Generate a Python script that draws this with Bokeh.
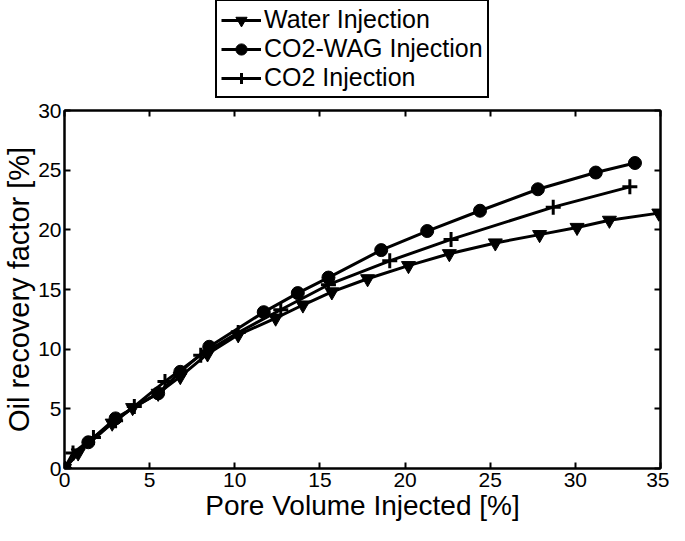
from bokeh.plotting import figure
from bokeh.layouts import column
from bokeh.models import Legend, LegendItem, LinearAxis, Range1d, FixedTicker
from bokeh.embed import file_html
from bokeh.resources import INLINE

# Data
water_x = [0, 0.8, 2.8, 4.0, 5.5, 6.8, 8.4, 10.2, 12.4, 14.0, 15.7, 17.8, 20.2, 22.6, 25.3, 27.9, 30.1, 32.0, 34.9]
water_y = [0, 1.3, 3.8, 5.1, 6.3, 7.7, 9.6, 11.2, 12.6, 13.7, 14.8, 15.9, 17.0, 18.0, 18.9, 19.6, 20.2, 20.8, 21.4]

wag_x = [0, 1.4, 3.0, 5.5, 6.8, 8.5, 11.7, 13.7, 15.5, 18.6, 21.3, 24.4, 27.8, 31.2, 33.5]
wag_y = [0, 2.2, 4.2, 6.3, 8.1, 10.2, 13.1, 14.7, 16.0, 18.3, 19.9, 21.6, 23.4, 24.8, 25.6]

co2_x = [0, 0.5, 1.7, 3.0, 4.1, 5.9, 8.0, 10.2, 12.7, 15.5, 19.1, 22.7, 28.7, 33.2]
co2_y = [0, 1.3, 2.6, 4.0, 5.2, 7.3, 9.5, 11.4, 13.3, 15.4, 17.4, 19.2, 21.9, 23.6]

x_ticks = [0, 5, 10, 15, 20, 25, 30, 35]
y_ticks = [0, 5, 10, 15, 20, 25, 30]
series_labels = ["Water Injection", "CO2-WAG Injection", "CO2 Injection"]

FONT = "Liberation Sans"
LW = 3


def draw_series(fig):
    r = []
    r.append((fig.line(water_x, water_y, line_color="black", line_width=LW),
              fig.scatter(water_x, water_y, marker="inverted_triangle", size=14, color="black")))
    r.append((fig.line(wag_x, wag_y, line_color="black", line_width=LW),
              fig.scatter(wag_x, wag_y, marker="circle", size=13, color="black")))
    r.append((fig.line(co2_x, co2_y, line_color="black", line_width=LW),
              fig.scatter(co2_x, co2_y, marker="cross", size=15, line_color="black", line_width=3)))
    return r


# ---------- legend strip (separate figure above the plot) ----------
leg_h = 98
lf = figure(width=669, height=leg_h, output_backend="svg", toolbar_location=None,
            x_range=Range1d(100, 101), y_range=Range1d(100, 101),
            x_axis_type=None, y_axis_type=None,
            min_border_left=59, min_border_right=9, min_border_top=0, min_border_bottom=0)
lf.xgrid.visible = False
lf.ygrid.visible = False
lf.outline_line_color = None
lf.border_fill_color = "white"
lf.background_fill_color = "white"

leg_renderers = draw_series(lf)  # same series, outside the strip's visible range

legend = Legend(items=[
    LegendItem(label=lab, renderers=list(rr)) for lab, rr in zip(series_labels, leg_renderers)
], location=(151, 0))
legend.label_text_font = FONT
legend.label_text_font_size = "25px"
legend.label_text_color = "black"
legend.border_line_color = "black"
legend.border_line_alpha = 1
legend.border_line_width = 2
legend.glyph_width = 40
legend.glyph_height = 28
legend.label_height = 28
legend.label_standoff = 3
legend.spacing = 0
legend.padding = 4
legend.margin = 0
legend.background_fill_alpha = 1
lf.add_layout(legend, "center")

# ---------- main plot ----------
p = figure(width=669, height=525 - leg_h, output_backend="svg", toolbar_location=None,
           x_range=Range1d(0, 35), y_range=Range1d(0, 30),
           min_border_left=59, min_border_right=9, min_border_top=12, min_border_bottom=57)
p.xgrid.visible = False
p.ygrid.visible = False
p.outline_line_color = "black"
p.outline_line_width = 2
p.background_fill_color = "white"
p.border_fill_color = "white"

for ax in [p.xaxis[0], p.yaxis[0]]:
    ax.major_tick_in = 6
    ax.major_tick_out = 0
    ax.minor_tick_in = 0
    ax.minor_tick_out = 0
    ax.axis_line_width = 2
    ax.major_tick_line_width = 2
    ax.major_label_text_font = FONT
    ax.major_label_text_font_size = "21px"
    ax.major_label_text_color = "black"
    ax.axis_label_text_font = FONT
    ax.axis_label_text_font_style = "normal"
    ax.axis_label_text_color = "black"
    ax.axis_label_standoff = 0

p.xaxis[0].ticker = FixedTicker(ticks=x_ticks)
p.yaxis[0].ticker = FixedTicker(ticks=y_ticks)
p.xaxis[0].axis_label = "Pore Volume Injected [%]"
p.yaxis[0].axis_label = "Oil recovery factor [%]"
p.xaxis[0].axis_label_text_font_size = "28px"
p.yaxis[0].axis_label_text_font_size = "29px"
p.xaxis[0].major_label_standoff = 4
p.yaxis[0].major_label_standoff = 3

right = LinearAxis(ticker=FixedTicker(ticks=y_ticks),
                   major_label_overrides={t: "" for t in y_ticks},
                   major_tick_in=6, major_tick_out=0, minor_tick_in=0, minor_tick_out=0,
                   axis_line_width=2, major_tick_line_width=2, major_label_standoff=0)
top = LinearAxis(ticker=FixedTicker(ticks=x_ticks),
                 major_label_overrides={t: "" for t in x_ticks},
                 major_tick_in=6, major_tick_out=0, minor_tick_in=0, minor_tick_out=0,
                 axis_line_width=2, major_tick_line_width=2, major_label_standoff=0)
p.add_layout(right, "right")
p.add_layout(top, "above")

draw_series(p)

layout = column(lf, p, spacing=0)
open("out.html", "w").write(file_html(layout, INLINE))
